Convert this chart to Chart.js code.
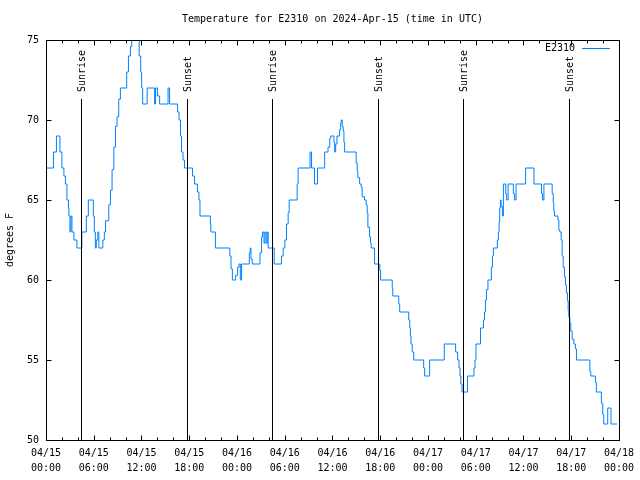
<!DOCTYPE html>
<html>
<head>
<meta charset="utf-8">
<script src="https://cdn.jsdelivr.net/npm/chart.js@4.4.1/dist/chart.umd.min.js"></script>
<style>
  body { margin: 0; background: #fff; }
  canvas { display: block; }
</style>
</head>
<body>
<canvas id="graph" width="640" height="480"></canvas>
<script>
// hours since 2024-04-15 00:00 UTC where the reading changes, and the new reading (deg F)
const hours = [
  0.00, 0.94, 1.31, 1.75, 2.00, 2.25, 2.44, 2.63, 2.82, 2.88, 3.01, 3.13, 3.26, 3.51, 3.88,
  4.51, 5.07, 5.32, 5.95, 6.07, 6.20, 6.32, 6.51, 6.64, 7.14, 7.33, 7.48, 7.89, 8.10, 8.30,
  8.52, 8.73, 8.93, 9.14, 9.35, 10.14, 10.36, 10.61, 10.77, 11.71, 11.90, 12.02, 12.15, 12.71,
  13.65, 13.77, 14.02, 14.28, 15.34, 15.53, 16.53, 16.72, 16.90, 17.03, 17.22, 17.41, 18.41,
  18.66, 19.03, 19.22, 19.35, 20.66, 20.72, 21.29, 23.10, 23.25, 23.42, 23.83, 24.08, 24.25,
  24.42, 24.58, 25.55, 25.67, 25.76, 25.92, 26.89, 27.09, 27.21, 27.39, 27.51, 27.67, 27.80,
  27.92, 28.68, 29.59, 29.80, 30.02, 30.22, 30.43, 30.56, 31.56, 31.68, 33.18, 33.37, 33.75,
  34.12, 35.02, 35.44, 35.65, 35.78, 36.19, 36.28, 36.40, 36.56, 36.90, 37.03, 37.10, 37.23,
  37.35, 37.44, 37.53, 38.98, 39.11, 39.19, 39.41, 39.61, 39.73, 40.03, 40.23, 40.36, 40.45,
  40.66, 40.78, 40.86, 41.29, 41.95, 42.04, 43.51, 43.58, 44.33, 44.45, 45.58, 45.71, 45.79,
  45.87, 46.02, 46.21, 47.46, 47.58, 48.21, 50.05, 51.47, 51.72, 51.90, 52.03, 52.13, 52.28,
  52.97, 53.78, 53.91, 54.03, 54.60, 54.97, 55.10, 55.22, 55.35, 55.54, 55.97, 56.10, 56.22,
  56.72, 56.85, 56.94, 57.01, 57.10, 57.19, 57.35, 57.48, 57.77, 57.89, 58.07, 58.73, 58.89,
  59.07, 60.27, 61.32, 62.27, 62.40, 62.57, 63.61, 63.74, 63.82, 63.90, 64.33, 64.45, 64.58,
  64.74, 64.86, 64.99, 65.15, 65.28, 65.40, 65.53, 65.62, 65.70, 65.83, 65.95, 66.12, 66.33,
  66.53, 66.66, 68.34, 68.46, 69.04, 69.16, 69.79, 69.96, 70.09, 70.59, 71.00, 71.75
];
const temps = [
  67, 68, 69, 68, 67, 66.5, 66, 65, 64.5, 64, 63, 64, 63, 62.5, 62,
  63, 64, 65, 64, 63, 62, 62.5, 63, 62, 62.5, 63, 63.7, 64.7, 65.6, 66.9,
  68.3, 69.6, 70.2, 71.3, 72, 73, 74, 74.6, 75, 74, 73, 72, 71, 72,
  71, 72, 71.5, 71, 72, 71, 70.5, 70, 69, 68, 67.5, 67, 66.5,
  66, 65.5, 65, 64, 63.5, 63, 62, 61.5, 60.7, 60, 60.3, 60.8, 61,
  60, 61, 61.7, 62, 61.3, 61, 61.7, 62.7, 63, 62.3, 63, 62.3, 63,
  62, 61, 61.5, 62, 62.5, 63.5, 64.2, 65, 66, 67, 68, 67, 66,
  67, 68, 68.3, 68.85, 69, 68.6, 68, 68.5, 69, 69.4, 69.8, 70, 69.6,
  69.3, 68.6, 68, 67.3, 66.8, 66.4, 66, 65.8, 65.2, 65, 64.7, 64.2, 63.3,
  62.7, 62.3, 62, 61, 60.6, 60, 59.5, 59, 58.5, 58, 57.5, 57, 56.5,
  56, 55.5, 55, 54.5, 54, 55, 56, 55.5, 55, 54.5, 54, 53.5, 53,
  54, 54.5, 55, 56, 57, 57.5, 58, 58.75, 59.4, 60, 60.8, 61.5, 62,
  62.5, 63, 63.6, 64.5, 65, 64.6, 64, 66, 65.4, 65, 66, 65.4, 65,
  66, 67, 66, 65.4, 65, 66, 65.4, 64.8, 64.3, 64, 63.75, 63.1, 63,
  62.5, 61.5, 60.8, 60.2, 59.7, 59.2, 58.7, 58.1, 57.7, 57.3, 56.8, 56.3, 56,
  55.7, 55, 54.3, 54, 53.6, 53, 52.3, 51.6, 51, 52, 51, 51
];

// sunrise / sunset markers (hours since start)
const eventHours = [4.43, 17.70, 28.45, 41.70, 52.40, 65.70];
const eventLabels = ['Sunrise', 'Sunset', 'Sunrise', 'Sunset', 'Sunrise', 'Sunset'];

// x tick labels, one per 6 hours
const tickDates = ['04/15', '04/15', '04/15', '04/15', '04/16', '04/16', '04/16', '04/16', '04/17', '04/17', '04/17', '04/17', '04/18'];
const tickTimes = ['00:00', '06:00', '12:00', '18:00', '00:00', '06:00', '12:00', '18:00', '00:00', '06:00', '12:00', '18:00', '00:00'];

const seriesName = 'E2310';
const titleText = 'Temperature for E2310 on 2024-Apr-15 (time in UTC)';
const yLabel = 'degrees F';

const FONT = '10px "DejaVu Sans Mono", monospace';
const LINE_COLOR = 'rgb(0,128,255)';

// gnuplot style frame, inward ticks, markers, title and key
const gnuplotDecor = {
    id: 'gnuplotDecor',
    afterDatasetsDraw(chart) {
        const ctx = chart.ctx;
        const area = chart.chartArea;
        const xs = chart.scales.x;
        const ys = chart.scales.y;
        ctx.save();
        ctx.strokeStyle = '#000';
        ctx.lineWidth = 1;
        ctx.fillStyle = '#000';
        ctx.font = FONT;

        // sunrise / sunset lines
        eventHours.forEach((h, i) => {
            const x = Math.round(xs.getPixelForValue(h)) + 0.5;
            ctx.beginPath();
            ctx.moveTo(x, 99);
            ctx.lineTo(x, area.bottom);
            ctx.stroke();
            ctx.save();
            ctx.translate(x + 1, 92);
            ctx.rotate(-Math.PI / 2);
            ctx.textAlign = 'left';
            ctx.textBaseline = 'middle';
            ctx.fillText(eventLabels[i], 0, 0);
            ctx.restore();
        });

        // frame
        const L = Math.round(area.left) + 0.5, R = Math.round(area.right) + 0.5;
        const T = Math.round(area.top) + 0.5, B = Math.round(area.bottom) + 0.5;
        ctx.strokeRect(L, T, R - L, B - T);

        // x ticks every 2 h, major every 6 h, mirrored on top
        ctx.beginPath();
        for (let h = 0; h <= 72; h += 2) {
            const x = Math.round(xs.getPixelForValue(h)) + 0.5;
            const len = h % 6 === 0 ? 5 : 3;
            ctx.moveTo(x, B); ctx.lineTo(x, B - len);
            ctx.moveTo(x, T); ctx.lineTo(x, T + len);
        }
        // y ticks, mirrored on right
        for (let v = 50; v <= 75; v += 5) {
            const y = Math.round(ys.getPixelForValue(v)) + 0.5;
            ctx.moveTo(L, y); ctx.lineTo(L + 5, y);
            ctx.moveTo(R, y); ctx.lineTo(R - 5, y);
        }
        ctx.stroke();

        // title
        ctx.textAlign = 'center';
        ctx.textBaseline = 'middle';
        ctx.fillText(titleText, (area.left + area.right) / 2, 19);

        // y axis label
        ctx.save();
        ctx.translate(10, 240);
        ctx.rotate(-Math.PI / 2);
        ctx.fillText(yLabel, 0, 0);
        ctx.restore();

        // key
        ctx.textAlign = 'right';
        ctx.fillText(seriesName, 575, 48);
        ctx.strokeStyle = LINE_COLOR;
        ctx.beginPath();
        ctx.moveTo(582, 48.5);
        ctx.lineTo(610, 48.5);
        ctx.stroke();
        ctx.restore();
    }
};

const ctx = document.getElementById('graph').getContext('2d');
new Chart(ctx, {
    type: 'line',
    data: {
        datasets: [{
            label: seriesName,
            data: hours.map((h, i) => ({ x: h, y: temps[i] })),
            borderColor: LINE_COLOR,
            borderWidth: 1,
            pointRadius: 0,
            stepped: true,
            fill: false
        }]
    },
    options: {
        responsive: false,
        animation: false,
        layout: { padding: { top: 40, right: 19, left: 0, bottom: 0 } },
        plugins: {
            legend: { display: false },
            title: { display: false },
            tooltip: { enabled: false }
        },
        scales: {
            x: {
                type: 'linear',
                min: 0,
                max: 72,
                border: { display: false },
                grid: { display: false, drawTicks: false },
                afterFit: s => { s.height = 40; },
                ticks: {
                    stepSize: 6,
                    autoSkip: false,
                    maxRotation: 0,
                    padding: 6,
                    color: '#000',
                    font: { family: '"DejaVu Sans Mono", monospace', size: 10, lineHeight: 1.5 },
                    callback: v => {
                        const i = Math.round(v / 6);
                        return [tickDates[i], tickTimes[i]];
                    }
                }
            },
            y: {
                min: 50,
                max: 75,
                border: { display: false },
                grid: { display: false, drawTicks: false },
                afterFit: s => { s.width = 46; },
                ticks: {
                    stepSize: 5,
                    padding: 7,
                    color: '#000',
                    font: { family: '"DejaVu Sans Mono", monospace', size: 10 }
                }
            }
        }
    },
    plugins: [gnuplotDecor]
});
</script>
</body>
</html>
